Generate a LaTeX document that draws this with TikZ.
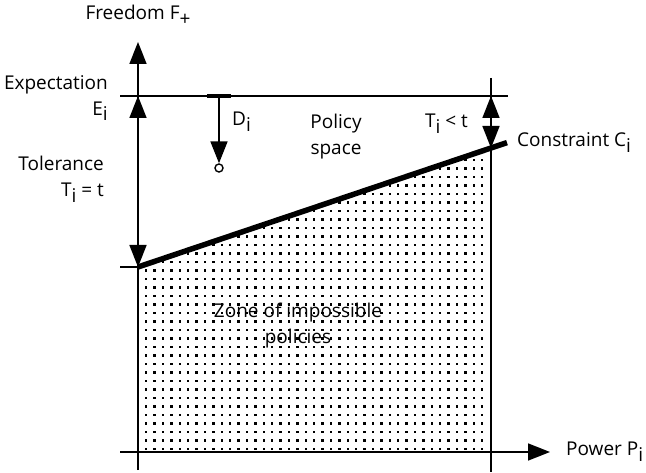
\documentclass[tikz,border=0pt]{standalone}
\usepackage{fontspec}
\setmainfont{Open Sans}
\usetikzlibrary{arrows.meta,positioning}
\newcommand{\idx}[1]{\raisebox{-0.3em}{#1}}
\tikzset{
  axisline/.style={line width=1.7pt,draw=black},
  thinline/.style={line width=1.3pt,draw=black},
  tipline/.style={axisline,-{Triangle[length=22pt,width=17pt]}},
  spanline/.style={axisline,{Triangle[length=22pt,width=17pt]}-{Triangle[length=22pt,width=17pt]}},
  constraintline/.style={line width=5.5pt,draw=black,line cap=butt},
  lbl/.style={font=\fontsize{19}{26}\selectfont,inner sep=0pt,align=center},
  griddot/.style={fill=black}
}
\begin{document}
\begin{tikzpicture}[x=1pt,y=-1pt,node distance=8pt and 10pt]
  \useasboundingbox (0,0) rectangle (646,473);
  \coordinate (origin) at (138,452);
  \coordinate (ybot) at (138,470);
  \coordinate (ytip) at (138,42);
  \coordinate (xleft) at (120,452);
  \coordinate (xtip) at (550,452);
  \coordinate (rtop) at (491,78);
  \coordinate (rbot) at (491,472);
  \coordinate (rx) at (491,452);
  \coordinate (eleft) at (120,96);
  \coordinate (eright) at (508,96);
  \coordinate (ei) at (138,96);
  \coordinate (er) at (491,96);
  \coordinate (ci) at (138,267);
  \coordinate (cr) at (491,148);
  \coordinate (cend) at (507,142.6);
  \coordinate (tick) at (120,267);
  \coordinate (dleft) at (207,96);
  \coordinate (dright) at (231,96);
  \coordinate (dtop) at (219,96);

  % zone of impossible policies
  \begin{scope}
    \clip (ci) -- (cr) -- (rx) -- (origin) -- cycle;
    \foreach \i in {0,...,40}
      \foreach \j in {0,...,36}
        \fill[griddot] ({145+8.4*\i},{447.8-8.5*\j}) rectangle ++(2.3,2.3);
  \end{scope}

  \draw[thinline] (eleft) -- (eright);
  \draw[thinline] (rtop) -- (rbot);
  \draw[axisline] (tick) -- (ci);
  \draw[tipline] (ybot) -- (ytip);
  \draw[tipline] (xleft) -- (xtip);
  \draw[spanline] (ei) -- (ci);
  \draw[spanline] (er) -- (cr);
  \draw[constraintline] (ci) -- (cend);

  \node[draw,circle,line width=1.4pt,minimum size=8pt,inner sep=0pt,fill=white] (dot) at (219,168) {};
  \draw[line width=3.5pt] (dleft) -- (dright);
  \draw[tipline] (dtop) -- (dot.north);

  \node[lbl] (freedom) at (138,15) {Freedom F\idx{+}};
  \node[lbl,anchor=east,align=right] (expect) at (108,98) {Expectation\\E\idx{i}};
  \node[lbl,anchor=east,align=right] (toler) at (104,179) {Tolerance\\T\idx{i} = t};
  \node[lbl,anchor=west] (dlabel) at (232,122) {D\idx{i}};
  \node[lbl] (policy) at (336,137) {Policy\\space};
  \node[lbl,anchor=east] (tless) at (468,124) {T\idx{i} < t};
  \node[lbl,right=10pt of cend,anchor=west] (constr) {Constraint C\idx{i}};
  \node[lbl] (zone) at (298,326) {Zone of impossible\\policies};
  \node[lbl,right=16pt of xtip,anchor=west] (power) {Power P\idx{i}};
\end{tikzpicture}
\end{document}
